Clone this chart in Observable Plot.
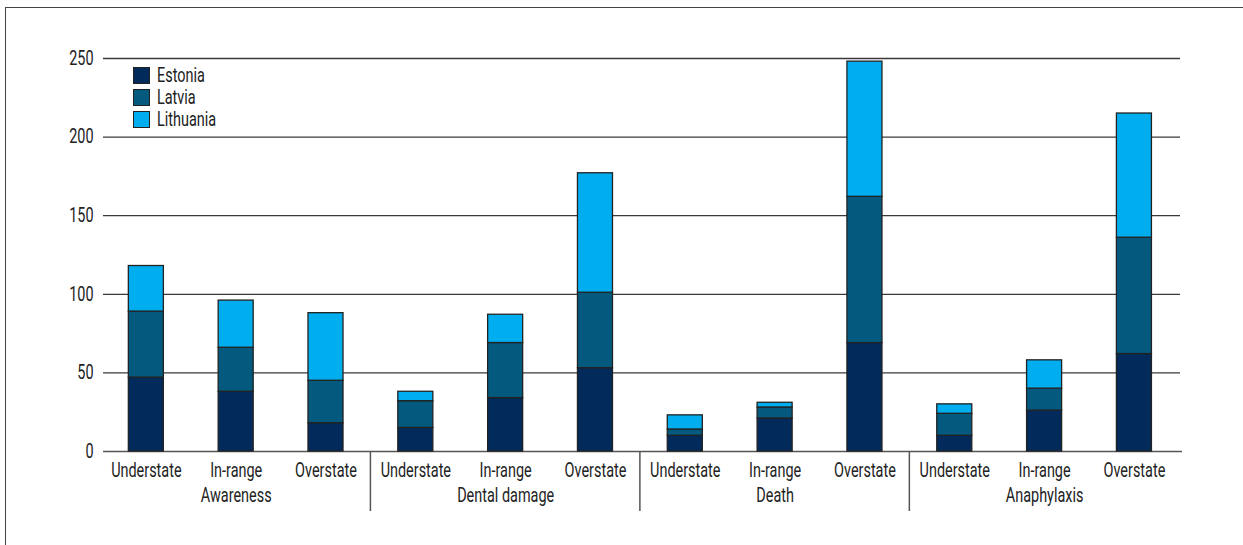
<!DOCTYPE html>
<html><head><meta charset="utf-8">
<script src="https://cdn.jsdelivr.net/npm/d3@7"></script>
<script src="https://cdn.jsdelivr.net/npm/@observablehq/plot@0.6"></script>
<style>
body{margin:0;background:#fff;}
#wrap{position:relative;width:1243px;height:545px;overflow:hidden;font-family:Roboto,"Liberation Sans",sans-serif;}
#frame{position:absolute;left:5px;top:7px;right:-10px;bottom:-10px;border-left:1.5px solid #444;border-top:1.5px solid #444;}
#chart{position:absolute;left:0;top:0;}
#legend{position:absolute;left:133px;top:64px;font-size:19.5px;color:#222;}
.row{display:flex;align-items:center;height:22px;}
.sw{width:15px;height:15px;border:1px solid #222;margin-right:7px;flex:none;}
.lt{display:inline-block;transform:scaleX(0.74);transform-origin:left center;white-space:nowrap;}
</style></head>
<body><div id="wrap"><div id="frame"></div><div id="chart"></div><div id="legend"></div></div>
<script>
const groups = ["Awareness", "Dental damage", "Death", "Anaphylaxis"];
const ratings = ["Understate", "In-range", "Overstate"];
const countries = ["Estonia", "Latvia", "Lithuania"];
const colors = ["#022a5a", "#035a7e", "#00adee"];
const estonia   = [47, 38, 18, 15, 34, 53, 10, 21, 69, 10, 26, 62];
const latvia    = [42, 28, 27, 17, 35, 48,  4,  7, 93, 14, 14, 74];
const lithuania = [29, 30, 43,  6, 18, 76,  9,  3, 86,  6, 18, 79];
const yTicks = [0, 50, 100, 150, 200, 250];

const keys = groups.flatMap(g => ratings.map(r => g + "|" + r));
const series = [estonia, latvia, lithuania];
const data = [];
countries.forEach((c, ci) => keys.forEach((k, ki) => data.push({key: k, country: c, value: series[ci][ki]})));

const font = 'Roboto,"Liberation Sans",sans-serif';
const fs = 19.5;
const chart = Plot.plot({
  width: 1243, height: 545,
  marginTop: 58, marginBottom: 94, marginLeft: 103, marginRight: 63,
  style: {fontFamily: font, fontSize: fs + "px", color: "#222", background: "transparent", overflow: "visible"},
  x: {domain: keys, paddingInner: 0.61, paddingOuter: 0.3, align: 0.47, round: false, axis: null},
  y: {domain: [0, 250], axis: null},
  color: {domain: countries, range: colors},
  marks: [
    Plot.ruleY(yTicks.slice(1), {stroke: "#3a3a3a", strokeWidth: 1.3}),
    Plot.ruleY([0], {stroke: "#555", strokeWidth: 1.5, insetRight: -2}),
    Plot.barY(data, {x: "key", y: "value", fill: "country", stroke: "#222", strokeWidth: 1.3}),
    Plot.axisY({ticks: yTicks, tickSize: 0, tickPadding: 10, label: null, fontSize: fs}),
    Plot.axisX({tickSize: 0, tickPadding: 12, label: null, fontSize: fs, tickFormat: d => d.split("|")[1]}),
    Plot.text(groups, {x: g => g + "|In-range", frameAnchor: "bottom", dy: 50, text: d => d, fontSize: fs, fill: "#222"})
  ]
});
document.getElementById("chart").appendChild(chart);

const svgEl = chart.tagName.toLowerCase() === "svg" ? chart : chart.querySelector("svg");
const svg = d3.select(svgEl);

// condense text horizontally (the reference uses a condensed face)
svg.selectAll("text").each(function() {
  const len = this.getComputedTextLength();
  if (len > 0) {
    this.setAttribute("textLength", (len * 0.74).toFixed(2));
    this.setAttribute("lengthAdjust", "spacingAndGlyphs");
  }
});

// group separators, positioned with the plot's own scales
const sx = chart.scale("x"), sy = chart.scale("y");
const y0 = sy.apply(0);
for (let i = 1; i < groups.length; i++) {
  const prevEnd = sx.apply(groups[i - 1] + "|Overstate") + sx.bandwidth;
  const nextStart = sx.apply(groups[i] + "|Understate");
  const xm = (prevEnd + nextStart) / 2;
  svg.append("line").attr("x1", xm).attr("x2", xm).attr("y1", y0).attr("y2", y0 + 60)
    .attr("stroke", "#555").attr("stroke-width", 1.5);
}

const legend = d3.select("#legend");
countries.forEach((c, i) => {
  const row = legend.append("div").attr("class", "row");
  row.append("div").attr("class", "sw").style("background", colors[i]);
  row.append("span").attr("class", "lt").text(c);
});
</script>
</body></html>
